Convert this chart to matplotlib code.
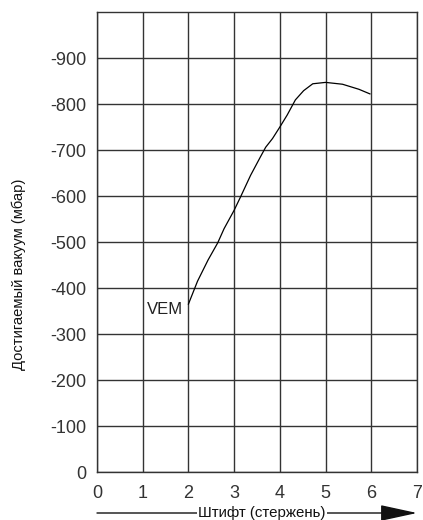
import matplotlib
matplotlib.use("Agg")
import matplotlib.pyplot as plt
from matplotlib.patches import FancyArrowPatch

# Data
pin = [2.0, 2.2, 2.43, 2.64, 2.78, 3.0, 3.14, 3.36, 3.58, 3.69, 3.84, 4.0,
       4.16, 4.34, 4.52, 4.72, 5.0, 5.37, 5.73, 5.97]
vacuum = [-365, -415, -461, -498, -529, -569, -598, -645, -686, -706, -725, -750,
          -776, -809, -829, -844, -847, -843, -832, -822]
xticks = [0, 1, 2, 3, 4, 5, 6, 7]
yticks = [0, -100, -200, -300, -400, -500, -600, -700, -800, -900]
ytick_labels = ["0", "-100", "-200", "-300", "-400", "-500", "-600", "-700", "-800", "-900"]
series_label = "VEM"
xlabel = "Штифт (стержень)"
ylabel = "Достигаемый вакуум (мбар)"

plt.rcParams['font.family'] = ['Liberation Sans', 'DejaVu Sans']

fig = plt.figure(figsize=(4.23, 5.2), dpi=100)
ax = fig.add_axes([0.2293, 0.0923, 0.9858 - 0.2293, 0.9769 - 0.0923])

ax.plot(pin, vacuum, color='black', linewidth=0.9)
ax.set_xlim(0, 7)
ax.set_ylim(0, -1000)
ax.set_xticks(xticks)
ax.set_yticks(yticks)
ax.set_yticklabels(ytick_labels)
ax.tick_params(length=0, labelsize=13, colors='#333333')
ax.tick_params(axis='y', pad=7.5)
ax.tick_params(axis='x', pad=9)
ax.grid(True, color='#333333', linewidth=1.0)
for s in ax.spines.values():
    s.set_color('#333333')
    s.set_linewidth(1.0)

ax.text(1.1, -354, series_label, fontsize=12, va='center', ha='left', color='#222222')

fig.text(18.5 / 423, 1 - 274 / 520, ylabel, rotation=90, ha='center', va='center',
         fontsize=10.6, color='#111111')

# x label with arrow line beneath
y_arrow = 1 - 513 / 520
arrow = FancyArrowPatch((97 / 423, y_arrow), (417 / 423, y_arrow), transform=fig.transFigure,
                        arrowstyle='-|>,head_length=23,head_width=5', mutation_scale=1.0,
                        color='#111111', linewidth=1.0, shrinkA=0, shrinkB=0)
fig.patches.append(arrow)
fig.text(262 / 423, y_arrow, xlabel, ha='center', va='center',
         fontsize=10.8, color='#111111',
         bbox=dict(facecolor='white', edgecolor='none', pad=1.0))

fig.savefig('out.png', dpi=100)
